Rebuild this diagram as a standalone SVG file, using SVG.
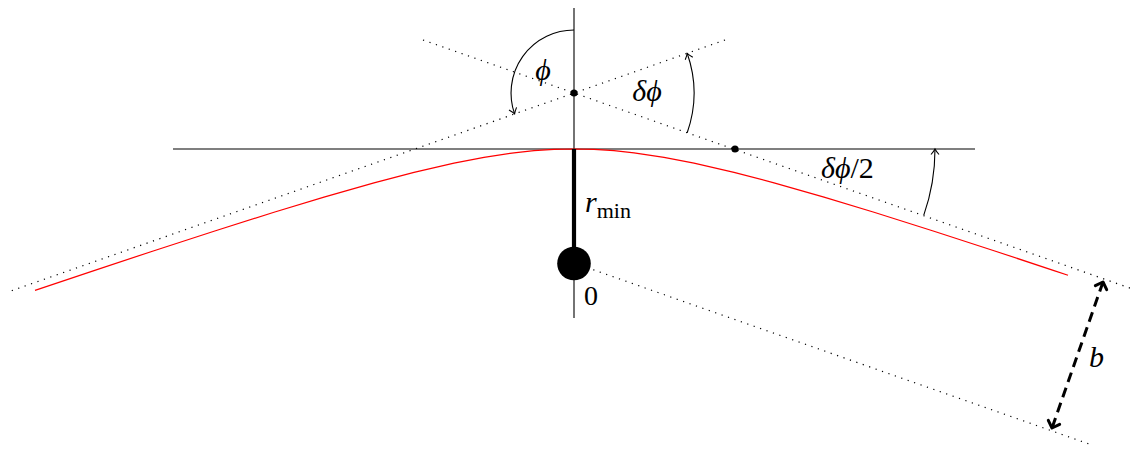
<svg xmlns="http://www.w3.org/2000/svg" width="1136" height="451" viewBox="0 0 1136 451">
<style>
.ax{stroke:#000;stroke-width:1.1;fill:none}
.dot{stroke:#000;stroke-width:1.2;fill:none;stroke-dasharray:1.2 5.6}
.arc{stroke:#000;stroke-width:1.1;fill:none}
.m{font-family:"Liberation Serif","DejaVu Serif",serif;font-style:italic;font-size:30px;fill:#000}
.r{font-family:"Liberation Serif","DejaVu Serif",serif;font-style:normal;fill:#000}
</style>
<defs>
<marker id="ah" markerUnits="userSpaceOnUse" markerWidth="14" markerHeight="14" viewBox="-8 -7 10 14" refX="0" refY="0" orient="auto">
<path d="M-5.5,-4 Q-2,-1 0,0 Q-2,1 -5.5,4" fill="none" stroke="#000" stroke-width="1.1"/>
</marker>
<marker id="bh" markerUnits="userSpaceOnUse" markerWidth="20" markerHeight="20" viewBox="-10 -10 14 20" refX="0" refY="0" orient="auto-start-reverse">
<path d="M-6,-6 L0,0 L-6,6" fill="none" stroke="#000" stroke-width="3" stroke-linecap="round" stroke-linejoin="round"/>
</marker>
</defs>
<rect width="1136" height="451" fill="#fff"/>
<g id="connectors">
<line class="ax" x1="173" y1="149" x2="975" y2="149"/>
<line class="ax" x1="574" y1="8" x2="574" y2="318"/>
<line class="dot" x1="423" y1="40" x2="1134" y2="289.5"/>
<line class="dot" x1="725" y1="40" x2="8" y2="292"/>
<line class="dot" x1="574" y1="263" x2="1092" y2="445"/>
<polyline fill="none" stroke="#f00" stroke-width="1.2" stroke-linejoin="round" points="35,290.4 94,270.6 154,250.7 214,231.2 274,212.3 324,197.1 374,182.8 414,172.3 454,163.1 484,157.3 514,152.8 534,150.7 554,149.4 574,149 594,149.4 614,150.7 634,152.8 664,157.3 694,163.1 734,172.3 774,182.8 824,197.1 874,212.3 934,231.2 994,250.7 1054,270.6 1068,275.3"/>
<line x1="574" y1="149" x2="574" y2="252" stroke="#000" stroke-width="4.2"/>
<path class="arc" d="M574,30 A63,63 0 0 0 514.6,113.9" marker-end="url(#ah)"/>
<path class="arc" d="M687.2,132.7 A120,120 0 0 0 687.2,53.3" marker-end="url(#ah)"/>
<path class="arc" d="M923.8,215.1 A200,200 0 0 0 935,149" marker-end="url(#ah)"/>
<line x1="1103" y1="282" x2="1052" y2="428" stroke="#000" stroke-width="3" stroke-dasharray="10 6" marker-start="url(#bh)" marker-end="url(#bh)"/>
</g>
<g id="center"><circle cx="574" cy="93" r="3.6" fill="#000"/></g>
<g id="crossing"><circle cx="735" cy="149" r="3.6" fill="#000"/></g>
<g id="origin"><circle cx="574" cy="263.5" r="16.8" fill="#000"/><text class="r" x="584" y="305" font-size="28">0</text></g>
<g id="label-phi"><text class="m" x="543" y="80" text-anchor="middle">ϕ</text></g>
<g id="label-dphi"><text class="m" x="647" y="101" text-anchor="middle">δϕ</text></g>
<g id="label-dphi2"><text class="m" x="821" y="178">δϕ<tspan class="r">/2</tspan></text></g>
<g id="label-rmin"><text class="m" x="585" y="212">r<tspan class="r" font-size="22" dy="6">min</tspan></text></g>
<g id="label-b"><text class="m" x="1089" y="367">b</text></g>
</svg>
